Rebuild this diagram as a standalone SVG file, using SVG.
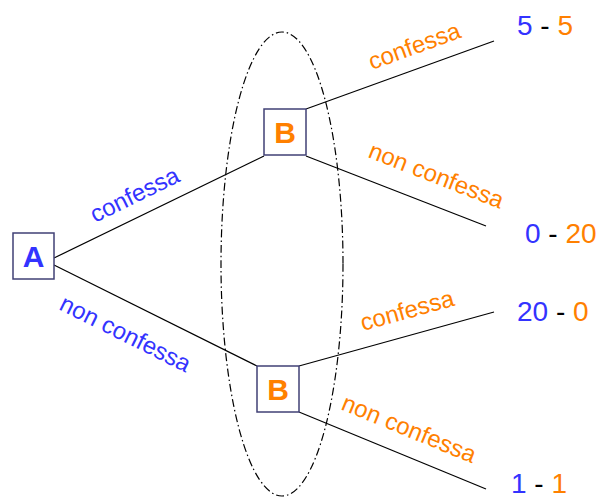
<svg xmlns="http://www.w3.org/2000/svg" width="599" height="499" viewBox="0 0 599 499">
<style>
.box{fill:#fff;stroke:#404075;stroke-width:1.5}
.edge{stroke:#000;stroke-width:1.2;fill:none}
.lbl{font-family:"Liberation Sans",Arial,sans-serif;font-size:24px}
.pay{font-family:"Liberation Sans",Arial,sans-serif;font-size:28px}
.node{font-family:"Liberation Sans",Arial,sans-serif;font-size:30px;font-weight:bold;text-anchor:middle}
.blue{fill:#3333ff}
.orange{fill:#ff8000}
.black{fill:#000}
</style>
<rect width="599" height="499" fill="#fff"/>
<ellipse id="info-set" cx="282" cy="264" rx="61" ry="232" fill="none" stroke="#000" stroke-width="1.2" stroke-dasharray="8 3 1.5 3"/>
<g id="connectors">
<line class="edge" x1="54" y1="258" x2="264" y2="156"/>
<line class="edge" x1="54" y1="265" x2="257" y2="366"/>
<line class="edge" x1="306" y1="109" x2="494" y2="41"/>
<line class="edge" x1="306" y1="156" x2="486" y2="226"/>
<line class="edge" x1="299" y1="366" x2="494" y2="312"/>
<line class="edge" x1="299" y1="412" x2="486" y2="489"/>
<text class="lbl blue" transform="translate(95,223) rotate(-26)">confessa</text>
<text class="lbl blue" transform="translate(58,309) rotate(26.5)">non confessa</text>
<text class="lbl orange" transform="translate(372,70) rotate(-20)">confessa</text>
<text class="lbl orange" transform="translate(367,157) rotate(21.3)">non confessa</text>
<text class="lbl orange" transform="translate(363,331) rotate(-15.5)">confessa</text>
<text class="lbl orange" transform="translate(340,409) rotate(22.4)">non confessa</text>
</g>
<g id="A">
<rect class="box" x="13" y="233" width="41" height="46"/>
<text class="node blue" x="33.5" y="267">A</text>
</g>
<g id="B1">
<rect class="box" x="264" y="109" width="42" height="46"/>
<text class="node orange" x="285" y="143">B</text>
</g>
<g id="B2">
<rect class="box" x="257" y="366" width="42" height="46"/>
<text class="node orange" x="278" y="400">B</text>
</g>
<g id="payoff-cc">
<text class="pay" x="517" y="35"><tspan class="blue">5</tspan><tspan class="black"> - </tspan><tspan class="orange">5</tspan></text>
</g>
<g id="payoff-cn">
<text class="pay" x="525" y="243"><tspan class="blue">0</tspan><tspan class="black"> - </tspan><tspan class="orange">20</tspan></text>
</g>
<g id="payoff-nc">
<text class="pay" x="517" y="321"><tspan class="blue">20</tspan><tspan class="black"> - </tspan><tspan class="orange">0</tspan></text>
</g>
<g id="payoff-nn">
<text class="pay" x="511" y="493"><tspan class="blue">1</tspan><tspan class="black"> - </tspan><tspan class="orange">1</tspan></text>
</g>
</svg>
